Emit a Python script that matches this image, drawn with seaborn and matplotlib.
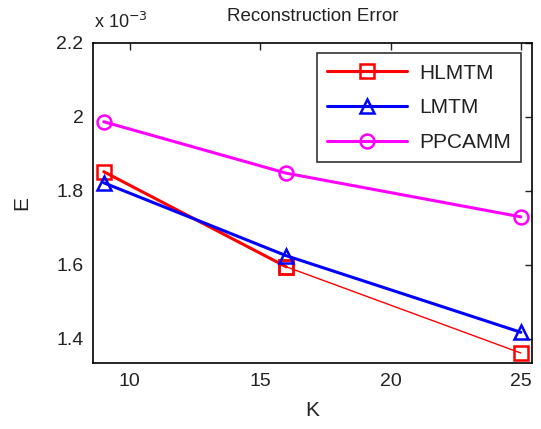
import matplotlib
matplotlib.use("Agg")
import matplotlib.pyplot as plt
import seaborn as sns
import numpy as np
from matplotlib.lines import Line2D
from matplotlib.ticker import FuncFormatter

K = [9, 16, 25]
hlmtm = [1.852e-3, 1.595e-3, 1.362e-3]
lmtm = [1.822e-3, 1.625e-3, 1.418e-3]
ppcamm = [1.987e-3, 1.848e-3, 1.730e-3]
names = ["HLMTM", "LMTM", "PPCAMM"]
colors = ["#FF0000", "#0000FF", "#FF00FF"]
markers = ["s", "^", "o"]
xticks = [10, 15, 20, 25]
yticks = [1.4e-3, 1.6e-3, 1.8e-3, 2.0e-3, 2.2e-3]

sns.set_style("white")
plt.rcParams["font.family"] = ["Liberation Sans", "DejaVu Sans"]

fig = plt.figure(figsize=(5.41, 4.29), dpi=100)
ax = fig.add_axes([0.1725, 0.1538, 0.8105, 0.7462])

mkw = dict(markersize=10, markerfacecolor="none", markeredgewidth=1.8)

# HLMTM: thick first segment, thin second segment
sns.lineplot(x=K[:2], y=hlmtm[:2], ax=ax, color=colors[0], lw=2.2, marker=markers[0],
             markeredgecolor=colors[0], **mkw)
sns.lineplot(x=K[1:], y=hlmtm[1:], ax=ax, color=colors[0], lw=1.0, marker=markers[0],
             markeredgecolor=colors[0], **mkw)
sns.lineplot(x=K, y=lmtm, ax=ax, color=colors[1], lw=2.2, marker=markers[1],
             markeredgecolor=colors[1], **mkw)
sns.lineplot(x=K, y=ppcamm, ax=ax, color=colors[2], lw=2.2, marker=markers[2],
             markeredgecolor=colors[2], **mkw)

ax.set_xlim(8.6, 25.42)
ax.set_ylim(1.335e-3, 2.2e-3)
ax.set_xticks(xticks)
ax.set_yticks(yticks)
ax.yaxis.set_major_formatter(FuncFormatter(lambda v, p: "%g" % round(v * 1e3, 3)))
ax.tick_params(direction="in", length=5, width=1, top=True, right=True,
               labelsize=14, colors="#222222", pad=7)
for s in ax.spines.values():
    s.set_color("black")
    s.set_linewidth(1.2)

ax.set_xlabel("K", fontsize=15, labelpad=8, color="#222222")
ax.set_ylabel("E", fontsize=15, labelpad=18, color="#222222")
ax.set_title("Reconstruction Error", fontsize=13.5, pad=16, color="#222222")
fig.text(0.174, 0.925, "x 10$^{-3}$", fontsize=13, ha="left", va="bottom", color="#222222")

handles = [Line2D([], [], color=c, lw=2.2, marker=m, markeredgecolor=c, **mkw)
           for c, m in zip(colors, markers)]
leg = ax.legend(handles, names, loc="upper right", fontsize=15, frameon=True,
                fancybox=False, edgecolor="black", handlelength=3.8,
                borderaxespad=0.5, labelspacing=0.75, borderpad=0.5, handletextpad=0.6)
leg.get_frame().set_linewidth(1.2)
for t in leg.get_texts():
    t.set_color("#222222")

fig.savefig("out.png", dpi=100)
